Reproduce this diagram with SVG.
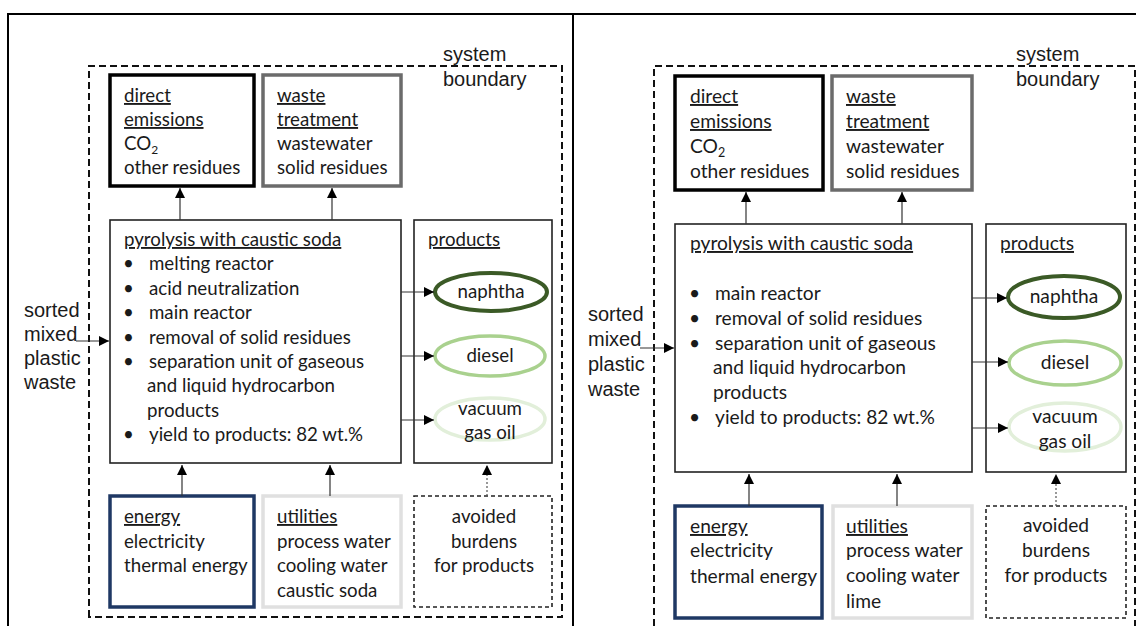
<svg xmlns="http://www.w3.org/2000/svg" width="1136" height="626" viewBox="0 0 1136 626">
<style>
.t{font-family:Lato,"Liberation Sans",sans-serif;font-size:18.7px;fill:#1a1a1a}
.tr{font-family:Lato,"Liberation Sans",sans-serif;font-size:19.2px;fill:#1a1a1a}
.a{font-family:"Liberation Sans",Arial,sans-serif;font-size:20px;fill:#1a1a1a}
.u{text-decoration:underline}
.m{text-anchor:middle}
.frame{fill:none;stroke:#000;stroke-width:2}
.sb{fill:none;stroke:#111;stroke-width:2;stroke-dasharray:7 4}
.box{fill:#fff;stroke:#222;stroke-width:1.6}
.de{fill:#fff;stroke:#000;stroke-width:3.5}
.wt{fill:#fff;stroke:#6b6b6b;stroke-width:3.5}
.en{fill:#fff;stroke:#1f3864;stroke-width:3.5}
.ut{fill:#fff;stroke:#e0e0e0;stroke-width:3.5}
.av{fill:#fff;stroke:#222;stroke-width:1.6;stroke-dasharray:4 3}
.e1{fill:#fff;stroke:#3b5a26;stroke-width:4}
.e2{fill:#fff;stroke:#a9d18e;stroke-width:3.5}
.e3{fill:#fff;stroke:#e2efda;stroke-width:3.5}
.c{fill:none;stroke:#333;stroke-width:1.2;marker-end:url(#ah)}
.cd{fill:none;stroke:#555;stroke-width:1.2;stroke-dasharray:2 2;marker-end:url(#ah)}
</style>
<defs>
<marker id="ah" markerUnits="userSpaceOnUse" markerWidth="11" markerHeight="11" refX="10" refY="5.5" orient="auto">
<path d="M0,0.5 L10,5.5 L0,10.5 z" fill="#000"/>
</marker>
</defs>
<rect width="1136" height="626" fill="#fff"/>
<path class="frame" d="M8,626 V14 H1136 M573,14 V626"/>

<!-- LEFT PANEL -->
<g id="left-boundary">
<path class="sb" d="M89,617 V66 H562 V617 Z"/>
<text class="a" x="443" y="61">system</text>
<text class="a" x="443" y="86">boundary</text>
</g>
<g id="left-direct-emissions">
<rect class="de" x="110" y="75" width="144" height="111"/>
<text class="t" x="124" y="102"><tspan class="u">direct </tspan></text>
<text class="t" x="124" y="126"><tspan class="u">emissions</tspan></text>
<text class="t" x="124" y="150">CO<tspan font-size="12" dy="4">2</tspan></text>
<text class="t" x="124" y="174">other residues</text>
</g>
<g id="left-waste-treatment">
<rect class="wt" x="263" y="75" width="138" height="111"/>
<text class="t" x="277" y="102"><tspan class="u">waste </tspan></text>
<text class="t" x="277" y="126"><tspan class="u">treatment</tspan></text>
<text class="t" x="277" y="150">wastewater</text>
<text class="t" x="277" y="174">solid residues</text>
</g>
<g id="left-pyrolysis">
<rect class="box" x="110" y="220" width="291" height="243"/>
<text class="t" x="124" y="246"><tspan class="u">pyrolysis with caustic soda</tspan></text>
<text class="t" x="123" y="270">•</text><text class="t" x="149" y="270">melting reactor</text>
<text class="t" x="123" y="295">•</text><text class="t" x="149" y="295">acid neutralization</text>
<text class="t" x="123" y="319">•</text><text class="t" x="149" y="319">main reactor</text>
<text class="t" x="123" y="344">•</text><text class="t" x="149" y="344">removal of solid residues</text>
<text class="t" x="123" y="368">•</text><text class="t" x="149" y="368">separation unit of gaseous</text>
<text class="t" x="147" y="392">and liquid hydrocarbon</text>
<text class="t" x="147" y="417">products</text>
<text class="t" x="123" y="441">•</text><text class="t" x="149" y="441">yield to products: 82 wt.%</text>
</g>
<g id="left-products">
<rect class="box" x="414" y="220" width="138" height="243"/>
<text class="t" x="428" y="246"><tspan class="u">products</tspan></text>
</g>
<g id="left-naphtha">
<ellipse class="e1" cx="491" cy="292" rx="56" ry="19"/>
<text class="t m" x="491" y="298">naphtha</text>
</g>
<g id="left-diesel">
<ellipse class="e2" cx="490" cy="356" rx="55" ry="20"/>
<text class="t m" x="490" y="362">diesel</text>
</g>
<g id="left-vgo">
<ellipse class="e3" cx="490" cy="419" rx="55" ry="21"/>
<text class="t m" x="490" y="415">vacuum</text>
<text class="t m" x="490" y="439">gas oil</text>
</g>
<g id="left-input">
<text class="a" x="24" y="317">sorted</text>
<text class="a" x="24" y="341">mixed</text>
<text class="a" x="24" y="365">plastic</text>
<text class="a" x="24" y="389">waste</text>
</g>
<g id="left-energy">
<rect class="en" x="110" y="496" width="144" height="111"/>
<text class="t" x="124" y="523"><tspan class="u">energy</tspan></text>
<text class="t" x="124" y="548">electricity</text>
<text class="t" x="124" y="572">thermal energy</text>
</g>
<g id="left-utilities">
<rect class="ut" x="263" y="496" width="138" height="111"/>
<text class="t" x="277" y="523"><tspan class="u">utilities</tspan></text>
<text class="t" x="277" y="548">process water</text>
<text class="t" x="277" y="572">cooling water</text>
<text class="t" x="277" y="597">caustic soda</text>
</g>
<g id="left-avoided">
<rect class="av" x="414" y="496" width="138" height="111"/>
<text class="t m" x="484" y="523">avoided</text>
<text class="t m" x="484" y="548">burdens</text>
<text class="t m" x="484" y="572">for products</text>
</g>

<!-- RIGHT PANEL -->
<g id="right-boundary">
<path class="sb" d="M654,626 V66 H1135 V626"/>
<text class="a" x="1016" y="61">system</text>
<text class="a" x="1016" y="86">boundary</text>
</g>
<g id="right-direct-emissions">
<rect class="de" x="675" y="76" width="148" height="114"/>
<text class="tr" x="690" y="103"><tspan class="u">direct </tspan></text>
<text class="tr" x="690" y="128"><tspan class="u">emissions</tspan></text>
<text class="tr" x="690" y="153">CO<tspan font-size="12.5" dy="4">2</tspan></text>
<text class="tr" x="690" y="178">other residues</text>
</g>
<g id="right-waste-treatment">
<rect class="wt" x="832" y="76" width="140" height="114"/>
<text class="tr" x="846" y="103"><tspan class="u">waste </tspan></text>
<text class="tr" x="846" y="128"><tspan class="u">treatment</tspan></text>
<text class="tr" x="846" y="153">wastewater</text>
<text class="tr" x="846" y="178">solid residues</text>
</g>
<g id="right-pyrolysis">
<rect class="box" x="675" y="224" width="297" height="248"/>
<text class="tr" x="690" y="250"><tspan class="u">pyrolysis with caustic soda</tspan></text>
<text class="tr" x="689" y="300">•</text><text class="tr" x="715" y="300">main reactor</text>
<text class="tr" x="689" y="325">•</text><text class="tr" x="715" y="325">removal of solid residues</text>
<text class="tr" x="689" y="350">•</text><text class="tr" x="715" y="350">separation unit of gaseous</text>
<text class="tr" x="713" y="374">and liquid hydrocarbon</text>
<text class="tr" x="713" y="399">products</text>
<text class="tr" x="689" y="424">•</text><text class="tr" x="715" y="424">yield to products: 82 wt.%</text>
</g>
<g id="right-products">
<rect class="box" x="986" y="224" width="140" height="248"/>
<text class="tr" x="1000" y="250"><tspan class="u">products</tspan></text>
</g>
<g id="right-naphtha">
<ellipse class="e1" cx="1064" cy="297" rx="56" ry="21"/>
<text class="tr m" x="1064" y="303">naphtha</text>
</g>
<g id="right-diesel">
<ellipse class="e2" cx="1065" cy="363" rx="56" ry="22"/>
<text class="tr m" x="1065" y="369">diesel</text>
</g>
<g id="right-vgo">
<ellipse class="e3" cx="1065" cy="427" rx="56" ry="24"/>
<text class="tr m" x="1065" y="423">vacuum</text>
<text class="tr m" x="1065" y="448">gas oil</text>
</g>
<g id="right-input">
<text class="a" x="588" y="321">sorted</text>
<text class="a" x="588" y="346">mixed</text>
<text class="a" x="588" y="371">plastic</text>
<text class="a" x="588" y="396">waste</text>
</g>
<g id="right-energy">
<rect class="en" x="675" y="506" width="147" height="112"/>
<text class="tr" x="690" y="533"><tspan class="u">energy</tspan></text>
<text class="tr" x="690" y="557">electricity</text>
<text class="tr" x="690" y="583">thermal energy</text>
</g>
<g id="right-utilities">
<rect class="ut" x="833" y="506" width="139" height="112"/>
<text class="tr" x="846" y="533"><tspan class="u">utilities</tspan></text>
<text class="tr" x="846" y="557">process water</text>
<text class="tr" x="846" y="582">cooling water</text>
<text class="tr" x="846" y="608">lime</text>
</g>
<g id="right-avoided">
<rect class="av" x="986" y="506" width="140" height="112"/>
<text class="tr m" x="1056" y="532">avoided</text>
<text class="tr m" x="1056" y="557">burdens</text>
<text class="tr m" x="1056" y="582">for products</text>
</g>

<g id="connectors">
<path class="c" d="M180,220 V188"/>
<path class="c" d="M332,220 V188"/>
<path class="c" d="M76,341 H109"/>
<path class="c" d="M401,292 H434"/>
<path class="c" d="M401,356 H434"/>
<path class="c" d="M401,420 H434"/>
<path class="c" d="M182,496 V465"/>
<path class="c" d="M330,496 V465"/>
<path class="cd" d="M487,496 V465"/>
<path class="c" d="M746,224 V192"/>
<path class="c" d="M902,224 V192"/>
<path class="c" d="M640,348 H674"/>
<path class="c" d="M972,298 H1007"/>
<path class="c" d="M972,362 H1008"/>
<path class="c" d="M972,428 H1008"/>
<path class="c" d="M749,506 V474"/>
<path class="c" d="M897,506 V474"/>
<path class="cd" d="M1056,506 V474"/>
</g>
</svg>
